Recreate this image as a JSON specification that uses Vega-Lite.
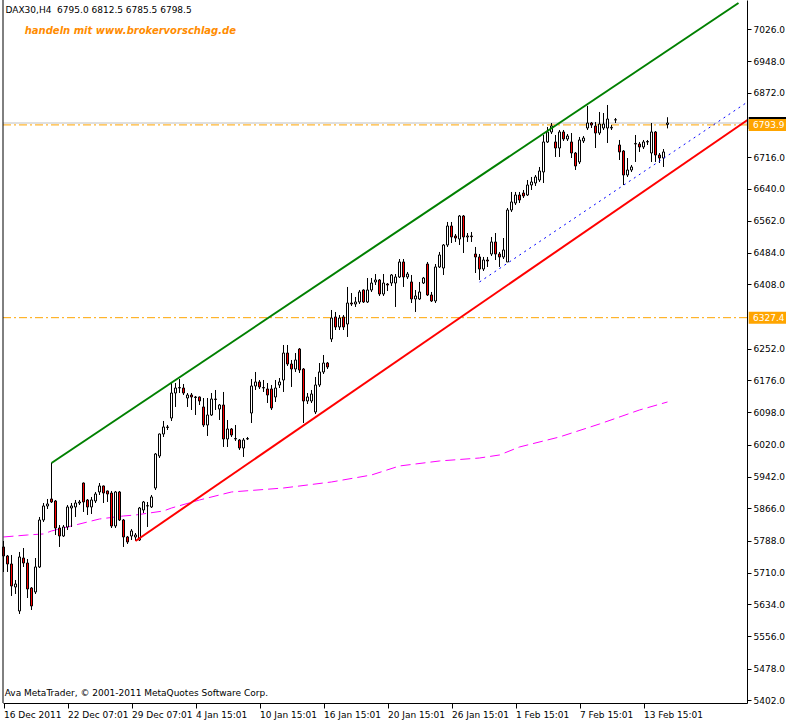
{
  "$schema": "https://vega.github.io/schema/vega-lite/v6.json",
  "autosize": "none",
  "width": 744,
  "height": 703,
  "padding": {"left": 3, "top": 0, "right": 39, "bottom": 17},
  "background": "#ffffff",
  "config": {"view": {"stroke": null}, "font": "DejaVu Sans", "axis": {"labelOverlap": false, "labelFlush": false, "labelBound": false}},
  "datasets": {
    "candles": [
      {"i":0,"o":5772.5,"h":5787.0,"l":5712.0,"c":5750.7},
      {"i":1,"o":5750.7,"h":5753.1,"l":5712.0,"c":5731.3},
      {"i":2,"o":5731.3,"h":5753.1,"l":5653.9,"c":5678.1},
      {"i":3,"o":5675.7,"h":5692.6,"l":5658.7,"c":5682.9},
      {"i":4,"o":5617.6,"h":5760.4,"l":5610.3,"c":5748.3},
      {"i":5,"o":5745.8,"h":5770.0,"l":5724.1,"c":5733.7},
      {"i":6,"o":5733.7,"h":5743.4,"l":5649.0,"c":5670.8},
      {"i":7,"o":5673.2,"h":5675.6,"l":5620.0,"c":5629.7},
      {"i":8,"o":5663.6,"h":5745.8,"l":5658.7,"c":5724.1},
      {"i":9,"o":5724.1,"h":5845.1,"l":5721.6,"c":5837.8},
      {"i":10,"o":5837.8,"h":5878.9,"l":5833.0,"c":5871.7},
      {"i":11,"o":5871.7,"h":5888.6,"l":5864.4,"c":5876.5},
      {"i":12,"o":5888.6,"h":5975.7,"l":5878.9,"c":5881.4},
      {"i":13,"o":5883.8,"h":5886.2,"l":5801.5,"c":5818.4},
      {"i":14,"o":5818.4,"h":5825.7,"l":5772.5,"c":5799.1},
      {"i":15,"o":5799.1,"h":5825.7,"l":5796.7,"c":5820.9},
      {"i":16,"o":5820.9,"h":5874.1,"l":5813.6,"c":5869.3},
      {"i":17,"o":5866.8,"h":5878.9,"l":5820.9,"c":5871.7},
      {"i":18,"o":5869.3,"h":5886.2,"l":5845.1,"c":5878.9},
      {"i":19,"o":5878.9,"h":5886.2,"l":5874.1,"c":5881.4},
      {"i":20,"o":5927.3,"h":5928.5,"l":5857.2,"c":5881.4},
      {"i":21,"o":5886.2,"h":5888.6,"l":5849.9,"c":5869.3},
      {"i":22,"o":5869.3,"h":5893.5,"l":5852.3,"c":5886.2},
      {"i":23,"o":5883.8,"h":5905.6,"l":5878.9,"c":5900.7},
      {"i":24,"o":5905.6,"h":5927.3,"l":5898.3,"c":5920.1},
      {"i":25,"o":5920.1,"h":5921.0,"l":5878.9,"c":5903.1},
      {"i":26,"o":5908.0,"h":5909.0,"l":5881.4,"c":5900.7},
      {"i":27,"o":5903.1,"h":5908.0,"l":5818.4,"c":5823.3},
      {"i":28,"o":5823.3,"h":5908.0,"l":5818.4,"c":5905.6},
      {"i":29,"o":5905.6,"h":5908.0,"l":5835.4,"c":5837.8},
      {"i":30,"o":5837.8,"h":5840.2,"l":5772.5,"c":5796.7},
      {"i":31,"o":5796.7,"h":5799.1,"l":5779.7,"c":5784.6},
      {"i":32,"o":5799.1,"h":5816.0,"l":5789.4,"c":5811.2},
      {"i":33,"o":5796.7,"h":5806.3,"l":5787.0,"c":5801.5},
      {"i":34,"o":5789.4,"h":5869.3,"l":5787.0,"c":5866.8},
      {"i":35,"o":5862.0,"h":5883.8,"l":5854.7,"c":5881.4},
      {"i":36,"o":5871.7,"h":5881.4,"l":5820.9,"c":5872.5},
      {"i":37,"o":5869.3,"h":5898.3,"l":5866.8,"c":5893.5},
      {"i":38,"o":5915.2,"h":5999.9,"l":5910.4,"c":5997.5},
      {"i":39,"o":5992.7,"h":6047.0,"l":5987.8,"c":6045.9},
      {"i":40,"o":6045.9,"h":6077.4,"l":6038.7,"c":6062.9},
      {"i":41,"o":6062.9,"h":6067.7,"l":6055.6,"c":6061.7},
      {"i":42,"o":6084.6,"h":6169.3,"l":6077.4,"c":6145.1},
      {"i":43,"o":6145.1,"h":6169.3,"l":6111.3,"c":6157.2},
      {"i":44,"o":6157.2,"h":6179.0,"l":6145.1,"c":6158.4},
      {"i":45,"o":6157.2,"h":6166.9,"l":6140.3,"c":6145.1},
      {"i":46,"o":6133.0,"h":6145.1,"l":6111.3,"c":6140.3},
      {"i":47,"o":6140.3,"h":6145.1,"l":6104.0,"c":6135.5},
      {"i":48,"o":6135.5,"h":6137.9,"l":6091.9,"c":6134.2},
      {"i":49,"o":6135.5,"h":6136.5,"l":6116.1,"c":6125.8},
      {"i":50,"o":6111.3,"h":6133.0,"l":6062.9,"c":6067.7},
      {"i":51,"o":6067.7,"h":6133.0,"l":6041.1,"c":6091.9},
      {"i":52,"o":6091.9,"h":6145.1,"l":6089.5,"c":6130.6},
      {"i":53,"o":6130.6,"h":6152.4,"l":6104.0,"c":6129.4},
      {"i":54,"o":6106.4,"h":6118.5,"l":6079.8,"c":6116.1},
      {"i":55,"o":6116.1,"h":6147.6,"l":6014.5,"c":6033.8},
      {"i":56,"o":6033.8,"h":6079.8,"l":6014.5,"c":6058.0},
      {"i":57,"o":6058.0,"h":6060.4,"l":6038.7,"c":6043.5},
      {"i":58,"o":6033.8,"h":6067.7,"l":6029.0,"c":6035.0},
      {"i":59,"o":6031.4,"h":6033.8,"l":6007.2,"c":6012.0},
      {"i":60,"o":6012.0,"h":6036.2,"l":5990.3,"c":6031.4},
      {"i":61,"o":6033.8,"h":6038.7,"l":6031.4,"c":6035.0},
      {"i":62,"o":6096.7,"h":6179.0,"l":6072.5,"c":6162.1},
      {"i":63,"o":6162.1,"h":6196.0,"l":6152.4,"c":6171.8},
      {"i":64,"o":6171.8,"h":6176.6,"l":6154.8,"c":6159.7},
      {"i":65,"o":6157.2,"h":6176.6,"l":6147.6,"c":6158.4},
      {"i":66,"o":6154.8,"h":6169.3,"l":6120.9,"c":6140.3},
      {"i":67,"o":6154.8,"h":6164.5,"l":6104.0,"c":6108.8},
      {"i":68,"o":6135.5,"h":6176.6,"l":6123.4,"c":6157.2},
      {"i":69,"o":6164.5,"h":6181.4,"l":6157.2,"c":6171.8},
      {"i":70,"o":6176.6,"h":6261.3,"l":6147.6,"c":6241.9},
      {"i":71,"o":6241.9,"h":6261.3,"l":6210.5,"c":6215.3},
      {"i":72,"o":6215.3,"h":6225.0,"l":6159.7,"c":6203.2},
      {"i":73,"o":6203.2,"h":6241.9,"l":6196.0,"c":6225.0},
      {"i":74,"o":6251.6,"h":6254.0,"l":6193.5,"c":6200.8},
      {"i":75,"o":6203.2,"h":6205.6,"l":6072.5,"c":6125.8},
      {"i":76,"o":6125.8,"h":6145.1,"l":6118.5,"c":6135.5},
      {"i":77,"o":6125.8,"h":6152.4,"l":6120.9,"c":6142.7},
      {"i":78,"o":6099.2,"h":6183.9,"l":6094.3,"c":6164.5},
      {"i":79,"o":6164.5,"h":6217.7,"l":6159.7,"c":6196.0},
      {"i":80,"o":6196.0,"h":6237.1,"l":6191.1,"c":6217.7},
      {"i":81,"o":6217.7,"h":6220.2,"l":6203.2,"c":6208.1},
      {"i":82,"o":6275.8,"h":6346.0,"l":6268.6,"c":6326.6},
      {"i":83,"o":6329.1,"h":6341.2,"l":6297.6,"c":6304.9},
      {"i":84,"o":6304.9,"h":6333.9,"l":6297.6,"c":6326.6},
      {"i":85,"o":6329.1,"h":6333.9,"l":6297.6,"c":6304.9},
      {"i":86,"o":6312.1,"h":6401.7,"l":6280.7,"c":6362.9},
      {"i":87,"o":6362.9,"h":6387.1,"l":6355.7,"c":6360.5},
      {"i":88,"o":6360.5,"h":6377.5,"l":6353.3,"c":6365.4},
      {"i":89,"o":6365.4,"h":6394.4,"l":6360.5,"c":6389.6},
      {"i":90,"o":6394.4,"h":6396.0,"l":6362.9,"c":6365.4},
      {"i":91,"o":6365.4,"h":6423.4,"l":6362.9,"c":6394.4},
      {"i":92,"o":6394.4,"h":6423.4,"l":6389.6,"c":6411.3},
      {"i":93,"o":6413.8,"h":6433.1,"l":6406.5,"c":6418.6},
      {"i":94,"o":6418.6,"h":6421.0,"l":6379.9,"c":6384.7},
      {"i":95,"o":6384.7,"h":6433.1,"l":6379.9,"c":6411.3},
      {"i":96,"o":6408.9,"h":6411.3,"l":6392.0,"c":6406.5},
      {"i":97,"o":6411.3,"h":6433.1,"l":6404.1,"c":6430.7},
      {"i":98,"o":6411.3,"h":6433.1,"l":6353.3,"c":6425.9},
      {"i":99,"o":6425.9,"h":6469.4,"l":6423.4,"c":6462.2},
      {"i":100,"o":6462.2,"h":6469.4,"l":6401.7,"c":6425.9},
      {"i":101,"o":6425.9,"h":6438.0,"l":6421.0,"c":6433.1},
      {"i":102,"o":6413.8,"h":6430.7,"l":6362.9,"c":6372.6},
      {"i":103,"o":6372.6,"h":6394.4,"l":6341.2,"c":6379.9},
      {"i":104,"o":6372.6,"h":6413.8,"l":6370.2,"c":6389.6},
      {"i":105,"o":6411.3,"h":6425.9,"l":6408.9,"c":6423.4},
      {"i":106,"o":6457.3,"h":6462.2,"l":6379.9,"c":6382.3},
      {"i":107,"o":6382.3,"h":6389.6,"l":6365.4,"c":6367.8},
      {"i":108,"o":6367.8,"h":6457.3,"l":6362.9,"c":6450.1},
      {"i":109,"o":6450.1,"h":6486.4,"l":6447.6,"c":6479.1},
      {"i":110,"o":6447.6,"h":6505.7,"l":6430.7,"c":6503.3},
      {"i":111,"o":6503.3,"h":6559.0,"l":6498.5,"c":6549.3},
      {"i":112,"o":6549.3,"h":6559.0,"l":6508.1,"c":6522.7},
      {"i":113,"o":6525.1,"h":6529.9,"l":6510.6,"c":6520.2},
      {"i":114,"o":6517.8,"h":6575.9,"l":6503.3,"c":6573.5},
      {"i":115,"o":6573.5,"h":6575.9,"l":6483.9,"c":6522.7},
      {"i":116,"o":6522.7,"h":6532.3,"l":6510.6,"c":6525.1},
      {"i":117,"o":6525.1,"h":6534.8,"l":6510.6,"c":6523.5},
      {"i":118,"o":6481.5,"h":6498.5,"l":6435.5,"c":6474.3},
      {"i":119,"o":6474.3,"h":6481.5,"l":6418.6,"c":6445.2},
      {"i":120,"o":6445.2,"h":6474.3,"l":6440.4,"c":6467.0},
      {"i":121,"o":6467.0,"h":6474.3,"l":6450.1,"c":6464.6},
      {"i":122,"o":6481.5,"h":6522.7,"l":6476.7,"c":6510.6},
      {"i":123,"o":6510.6,"h":6532.3,"l":6467.0,"c":6481.5},
      {"i":124,"o":6481.5,"h":6486.4,"l":6450.1,"c":6474.3},
      {"i":125,"o":6474.3,"h":6520.2,"l":6469.4,"c":6491.2},
      {"i":126,"o":6462.2,"h":6592.8,"l":6462.2,"c":6588.0},
      {"i":127,"o":6588.0,"h":6631.6,"l":6583.2,"c":6607.4},
      {"i":128,"o":6604.9,"h":6631.6,"l":6600.1,"c":6624.3},
      {"i":129,"o":6624.3,"h":6631.6,"l":6604.9,"c":6612.2},
      {"i":130,"o":6629.1,"h":6636.4,"l":6617.0,"c":6621.9},
      {"i":131,"o":6624.3,"h":6660.6,"l":6621.9,"c":6648.5},
      {"i":132,"o":6648.5,"h":6667.9,"l":6636.4,"c":6655.8},
      {"i":133,"o":6653.3,"h":6672.7,"l":6646.1,"c":6667.9},
      {"i":134,"o":6660.6,"h":6692.1,"l":6655.8,"c":6682.4},
      {"i":135,"o":6680.0,"h":6769.5,"l":6653.3,"c":6752.6},
      {"i":136,"o":6752.6,"h":6788.9,"l":6750.1,"c":6776.8},
      {"i":137,"o":6776.8,"h":6798.5,"l":6771.9,"c":6791.3},
      {"i":138,"o":6752.6,"h":6769.5,"l":6716.3,"c":6738.0},
      {"i":139,"o":6738.0,"h":6781.6,"l":6716.3,"c":6776.8},
      {"i":140,"o":6776.8,"h":6781.6,"l":6755.0,"c":6759.8},
      {"i":141,"o":6759.8,"h":6771.9,"l":6755.0,"c":6767.1},
      {"i":142,"o":6752.6,"h":6774.3,"l":6713.8,"c":6725.9},
      {"i":143,"o":6725.9,"h":6728.4,"l":6684.8,"c":6694.5},
      {"i":144,"o":6704.2,"h":6764.7,"l":6699.3,"c":6757.4},
      {"i":145,"o":6755.0,"h":6767.1,"l":6750.1,"c":6762.2},
      {"i":146,"o":6786.4,"h":6840.0,"l":6781.6,"c":6798.5},
      {"i":147,"o":6798.5,"h":6801.0,"l":6786.4,"c":6793.7},
      {"i":148,"o":6791.3,"h":6801.0,"l":6738.0,"c":6774.3},
      {"i":149,"o":6774.3,"h":6825.2,"l":6769.5,"c":6796.1},
      {"i":150,"o":6786.4,"h":6822.7,"l":6781.6,"c":6796.1},
      {"i":151,"o":6786.4,"h":6842.1,"l":6750.1,"c":6808.2},
      {"i":152,"o":6786.4,"h":6793.7,"l":6781.6,"c":6788.0},
      {"i":153,"o":6805.8,"h":6810.6,"l":6798.5,"c":6806.5},
      {"i":154,"o":6745.3,"h":6757.4,"l":6709.0,"c":6728.4},
      {"i":155,"o":6730.8,"h":6733.0,"l":6648.5,"c":6672.7},
      {"i":156,"o":6672.7,"h":6713.8,"l":6667.9,"c":6684.8},
      {"i":157,"o":6684.8,"h":6696.9,"l":6680.0,"c":6692.1},
      {"i":158,"o":6747.7,"h":6769.5,"l":6704.2,"c":6748.9},
      {"i":159,"o":6747.7,"h":6752.6,"l":6728.4,"c":6740.5},
      {"i":160,"o":6740.5,"h":6757.4,"l":6735.6,"c":6752.6},
      {"i":161,"o":6752.6,"h":6757.4,"l":6745.3,"c":6753.8},
      {"i":162,"o":6725.9,"h":6798.5,"l":6704.2,"c":6776.8},
      {"i":163,"o":6776.8,"h":6779.0,"l":6704.2,"c":6721.1},
      {"i":164,"o":6721.1,"h":6725.9,"l":6701.7,"c":6713.8},
      {"i":165,"o":6713.8,"h":6735.6,"l":6692.1,"c":6728.4},
      {"i":166,"o":6795.0,"h":6812.5,"l":6785.5,"c":6798.5}
    ],
    "ma": [
      {"i":0,"v":5796.7},{"i":6,"v":5801.5},{"i":10,"v":5804.0},{"i":12,"v":5811.2},
      {"i":16,"v":5820.9},{"i":18,"v":5825.7},{"i":22,"v":5835.4},{"i":24,"v":5840.2},
      {"i":28,"v":5845.1},{"i":30,"v":5847.5},{"i":33,"v":5849.9},{"i":40,"v":5859.6},
      {"i":42,"v":5866.8},{"i":49,"v":5886.2},{"i":57,"v":5905.6},{"i":70,"v":5915.2},
      {"i":82,"v":5929.8},{"i":92,"v":5946.7},{"i":99,"v":5968.5},{"i":109,"v":5980.6},
      {"i":119,"v":5987.8},{"i":124,"v":5995.1},{"i":129,"v":6014.5},{"i":139,"v":6038.7},
      {"i":149,"v":6070.1},{"i":159,"v":6104.0},{"i":166,"v":6123.4}
    ],
    "green": [{"i":12,"v":5975.7},{"i":183.75,"v":7088.9}],
    "red": [{"i":33,"v":5787.0},{"i":186,"v":6805.8}],
    "blue": [{"i":119,"v":6413.8},{"i":186,"v":6849.4}],
    "levels": [
      {"v":6798.5,"kind":"bid"},
      {"v":6793.9,"kind":"line"},
      {"v":6327.4,"kind":"line"}
    ],
    "notes": [
      {"t":"DAX30,H4\u00a0\u00a06795.0 6812.5 6785.5 6798.5","kind":"head","i":0.5,"v":7072},
      {"t":"handeln mit www.brokervorschlag.de","kind":"brand","i":5.3,"v":7021.2},
      {"t":"Ava MetaTrader, © 2001-2011 MetaQuotes Software Corp.","kind":"foot","i":0.3,"v":5419}
    ],
    "frame": [{"i":-0.125}]
  },
  "layer": [
    {
      "data": {"name": "ma"},
      "mark": {"type": "line", "color": "#ff00ff", "strokeWidth": 1, "strokeDash": [10, 5]},
      "encoding": {
        "x": {"field": "i", "type": "quantitative",
              "scale": {"domain": [-0.125, 185.875], "nice": false, "zero": false, "padding": 0},
              "axis": {"orient": "bottom", "title": null, "grid": false,
                       "values": [0,16,32,48,64,80,96,112,128,144,160], "tickCount": 40,
                       "labelExpr": "['16 Dec 2011','22 Dec 07:01','29 Dec 07:01','4 Jan 15:01','10 Jan 15:01','16 Jan 15:01','20 Jan 15:01','26 Jan 15:01','1 Feb 15:01','7 Feb 15:01','13 Feb 15:01'][round(datum.value/16)]",
                       "labelAlign": "left", "labelBaseline": "top", "labelPadding": 2, "labelOffset": 0,
                       "labelFont": "DejaVu Sans", "labelFontSize": 9, "labelColor": "#000000",
                       "tickSize": 5, "tickColor": "#000000", "domainColor": "#000000",
                       "labelOverlap": false, "labelFlush": false}},
        "y": {"field": "v", "type": "quantitative",
              "scale": {"domain": [5394.9, 7096.2], "nice": false, "zero": false, "padding": 0},
              "axis": {"orient": "right", "title": null, "grid": false,
                       "values": [5402,5478,5556,5634,5710,5788,5866,5942,6020,6098,6176,6252,6408,6484,6562,6640,6716,6872,6948,7026], "tickCount": 40,
                       "format": ".1f", "labelFont": "DejaVu Sans", "labelFontSize": 9, "labelColor": "#000000",
                       "labelPadding": 2, "tickSize": 4, "tickColor": "#000000", "domainColor": "#000000",
                       "labelOverlap": false, "labelFlush": false, "labelBaseline": "middle"}}
      }
    },
    {
      "data": {"name": "levels"},
      "transform": [{"filter": "datum.kind == 'bid'"}],
      "mark": {"type": "rule", "color": "#c0c0c0", "strokeWidth": 1},
      "encoding": {"y": {"field": "v", "type": "quantitative"}}
    },
    {
      "data": {"name": "levels"},
      "transform": [{"filter": "datum.kind == 'line'"}],
      "mark": {"type": "rule", "color": "#ffa500", "strokeWidth": 1, "strokeDash": [8, 3, 2, 3]},
      "encoding": {"y": {"field": "v", "type": "quantitative"}}
    },
    {
      "data": {"name": "candles"},
      "mark": {"type": "rule", "color": "#000000", "strokeWidth": 1},
      "encoding": {
        "x": {"field": "i", "type": "quantitative"},
        "y": {"field": "l", "type": "quantitative"},
        "y2": {"field": "h"}
      }
    },
    {
      "data": {"name": "candles"},
      "mark": {"type": "bar", "size": 2, "stroke": "#000000", "strokeWidth": 1},
      "encoding": {
        "x": {"field": "i", "type": "quantitative"},
        "y": {"field": "o", "type": "quantitative"},
        "y2": {"field": "c"},
        "fill": {"condition": {"test": "datum.c < datum.o", "value": "#ff0000"}, "value": "#ffffff"}
      }
    },
    {
      "data": {"name": "green"},
      "mark": {"type": "line", "color": "#008000", "strokeWidth": 2, "clip": true},
      "encoding": {"x": {"field": "i", "type": "quantitative"}, "y": {"field": "v", "type": "quantitative"}}
    },
    {
      "data": {"name": "red"},
      "mark": {"type": "line", "color": "#ff0000", "strokeWidth": 2, "clip": true},
      "encoding": {"x": {"field": "i", "type": "quantitative"}, "y": {"field": "v", "type": "quantitative"}}
    },
    {
      "data": {"name": "blue"},
      "mark": {"type": "line", "color": "#0000ff", "strokeWidth": 1, "strokeDash": [2, 4], "clip": true},
      "encoding": {"x": {"field": "i", "type": "quantitative"}, "y": {"field": "v", "type": "quantitative"}}
    },
    {
      "data": {"name": "frame"},
      "mark": {"type": "rule", "color": "#000000", "strokeWidth": 1},
      "encoding": {"x": {"field": "i", "type": "quantitative"}}
    },
    {
      "data": {"name": "levels"},
      "transform": [{"calculate": "datum.v - 14.5", "as": "lo"}, {"calculate": "datum.v + 14.5", "as": "hi"}],
      "mark": {"type": "rect"},
      "encoding": {
        "x": {"datum": 186.3},
        "x2": {"datum": 196},
        "y": {"field": "lo", "type": "quantitative"},
        "y2": {"field": "hi"},
        "fill": {"condition": {"test": "datum.kind == 'bid'", "value": "#000000"}, "value": "#ffa500"}
      }
    },
    {
      "data": {"name": "levels"},
      "transform": [{"filter": "datum.kind == 'line'"}],
      "mark": {"type": "text", "align": "left", "baseline": "middle", "fontSize": 9, "color": "#ffffff", "font": "DejaVu Sans"},
      "encoding": {
        "x": {"datum": 187.4},
        "y": {"field": "v", "type": "quantitative"},
        "text": {"field": "v", "type": "quantitative", "format": ".1f"}
      }
    },
    {
      "data": {"name": "notes"},
      "transform": [{"filter": "datum.kind != 'brand'"}],
      "mark": {"type": "text", "align": "left", "baseline": "middle", "fontSize": 9, "color": "#000000", "font": "DejaVu Sans"},
      "encoding": {"x": {"field": "i", "type": "quantitative"}, "y": {"field": "v", "type": "quantitative"}, "text": {"field": "t"}}
    },
    {
      "data": {"name": "notes"},
      "transform": [{"filter": "datum.kind == 'brand'"}],
      "mark": {"type": "text", "align": "left", "baseline": "middle", "fontSize": 10, "fontWeight": "bold", "fontStyle": "italic", "color": "#ff8c00", "font": "DejaVu Sans"},
      "encoding": {"x": {"field": "i", "type": "quantitative"}, "y": {"field": "v", "type": "quantitative"}, "text": {"field": "t"}}
    }
  ]
}
